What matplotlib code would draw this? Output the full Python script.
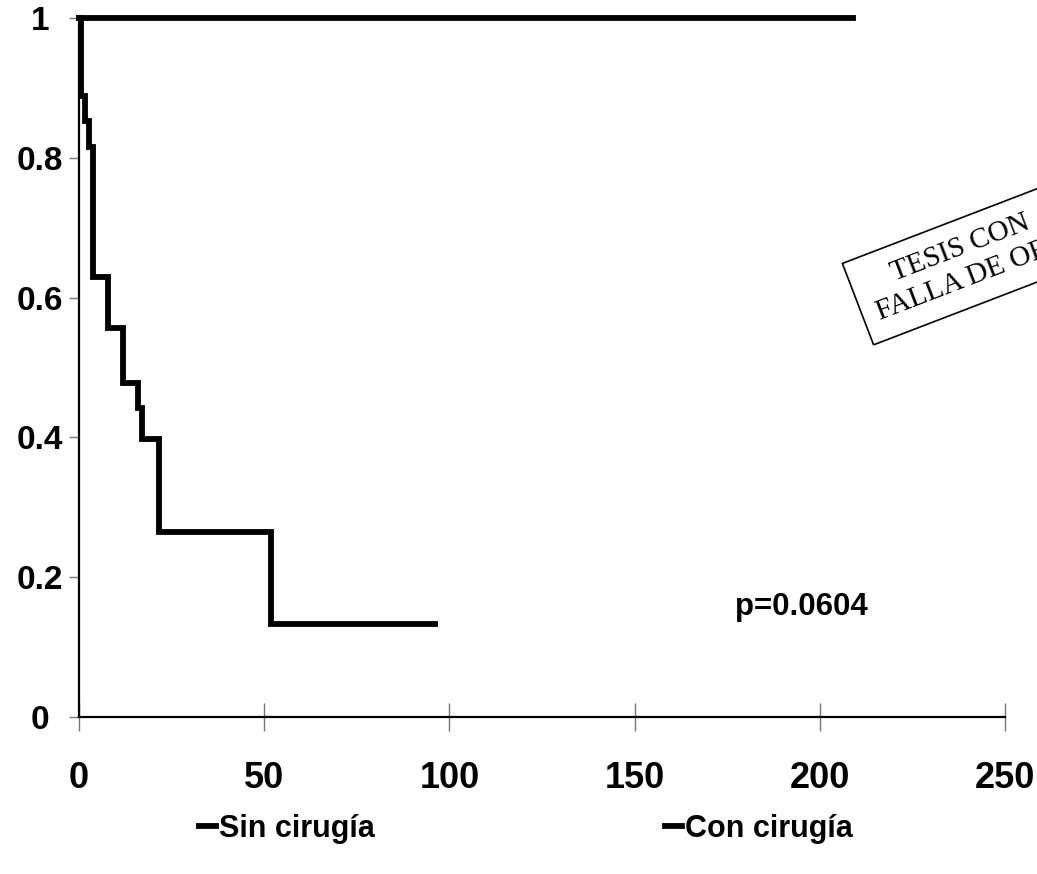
import matplotlib
matplotlib.use("Agg")
import matplotlib.pyplot as plt

# Kaplan-Meier steps
sin_t = [0, 0.5, 1.6, 2.8, 3.9, 7.7, 12.0, 15.8, 16.9, 21.7, 51.8, 96]
sin_s = [1.0, 0.889, 0.852, 0.815, 0.630, 0.556, 0.478, 0.442, 0.398, 0.265, 0.133, 0.133]
con_t = [0, 209]
con_s = [1.0, 1.0]

xticks = [0, 50, 100, 150, 200, 250]
yticks = [0, 0.2, 0.4, 0.6, 0.8, 1]
ylabels = ["0", "0.2", "0.4", "0.6", "0.8", "1"]

font = ["Liberation Sans Narrow", "Liberation Sans", "DejaVu Sans"]
plt.rcParams["font.family"] = font
plt.rcParams["font.weight"] = "bold"

fig = plt.figure(figsize=(10.37, 8.74), dpi=100)
ax = fig.add_axes([79 / 1037, 1 - 717 / 874, (1005 - 79) / 1037, (717 - 18) / 874])

l1, = ax.step(sin_t, sin_s, where="post", color="black", lw=4.2, clip_on=False,
              label="Sin cirugía", solid_joinstyle="miter")
l2, = ax.step(con_t, con_s, where="post", color="black", lw=4.2, clip_on=False,
              label="Con cirugía", solid_joinstyle="miter")

ax.set_xlim(0, 250)
ax.set_ylim(0, 1)
ax.set_xticks(xticks)
ax.set_yticks(yticks)
ax.set_yticklabels(ylabels, ha="center")
for s in ["top", "right"]:
    ax.spines[s].set_visible(False)
ax.spines["left"].set_linewidth(1.6)
ax.spines["bottom"].set_linewidth(1.6)
ax.tick_params(axis="x", direction="inout", length=20, width=1, color="#777777",
               labelsize=26, pad=22)
ax.tick_params(axis="y", direction="out", length=7, width=1, color="#777777",
               labelsize=24, pad=21)
for lab in ax.get_xticklabels() + ax.get_yticklabels():
    lab.set_fontweight("bold")

ax.text(177, 0.157, "p=0.0604", fontsize=22.5, fontweight="bold", va="center", ha="left")

fig.legend(handles=[l1, l2], loc="center", bbox_to_anchor=(0.507, 0.052), ncol=2,
           frameon=False, handlelength=0.55, handletextpad=0.1, columnspacing=9.5,
           prop={"size": 22, "weight": "bold"})

# scanned stamp
fig.text(882 / 1037, 1 - 326 / 874, "    TESIS CON\nFALLA DE ORIGEN", rotation=21,
         rotation_mode="anchor", ha="left", va="bottom", multialignment="left",
         fontsize=21, fontweight="normal", family=["Liberation Serif", "DejaVu Serif"],
         linespacing=1.3,
         bbox=dict(boxstyle="square,pad=0.5", fc="none", ec="black", lw=1.2))

fig.savefig("out.png", dpi=100)
